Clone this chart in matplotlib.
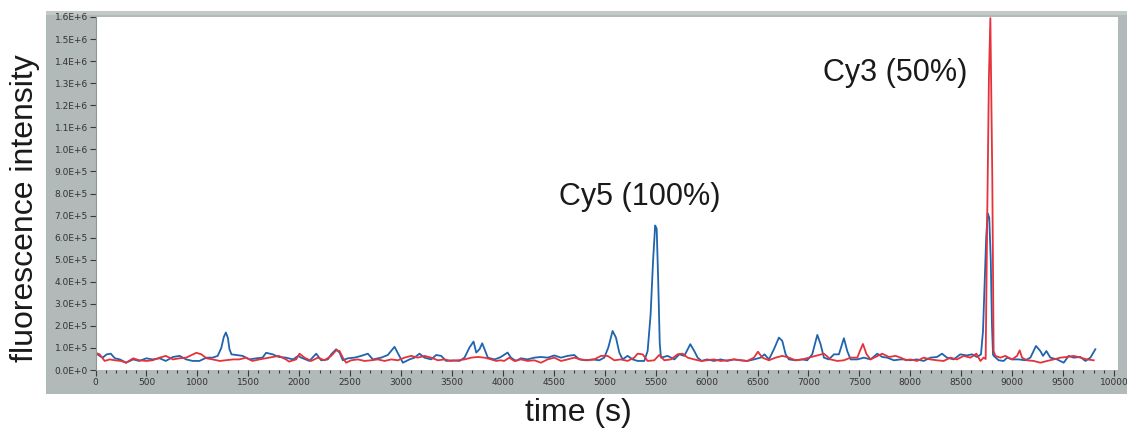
#Fluorescence time trace, Cy5 and Cy3 channels
import numpy as np
import matplotlib
matplotlib.use('Agg')
from matplotlib import pyplot as plt
from matplotlib.patches import Rectangle

#Blue trace (Cy5 channel), time in s and intensity in thousands
blueT = [0, 40, 70, 110, 150, 190, 240, 300, 370, 430,
         500, 560, 630, 690, 760, 825, 890, 955, 1020, 1090,
         1150, 1200, 1235, 1260, 1280, 1300, 1315, 1335, 1380, 1445,
         1510, 1580, 1640, 1675, 1740, 1800, 1870, 1940,
         1990, 2020, 2100, 2167, 2216, 2281, 2314, 2363, 2396, 2428,
         2478, 2543, 2609, 2674, 2723, 2805, 2870, 2936, 2975, 3018,
         3083, 3132, 3181, 3230, 3296, 3345, 3394, 3443, 3509, 3574,
         3623, 3672, 3712, 3738, 3770, 3797, 3826, 3852, 3918,
         3967, 3997, 4046, 4079, 4128, 4177, 4243, 4308, 4374, 4439,
         4505, 4570, 4635, 4701, 4750, 4815, 4881, 4946, 4995, 5035,
         5077, 5110, 5143, 5175, 5224, 5274, 5323, 5388, 5421, 5450,
         5475, 5495, 5510, 5525, 5540, 5552, 5617, 5683, 5732, 5781,
         5840, 5879, 5912,
         5951, 6006, 6072, 6137, 6203, 6268, 6334, 6399, 6465, 6530,
         6569, 6612, 6661, 6710, 6743, 6776, 6808, 6874, 6939, 6988,
         7037, 7087, 7119, 7152, 7201, 7250, 7299, 7348, 7381, 7414,
         7480, 7545, 7610, 7676, 7725, 7774, 7839, 7905,
         7935, 8000, 8066, 8131, 8197, 8262, 8311, 8360, 8426, 8491,
         8557, 8606, 8655, 8694, 8714, 8730, 8745, 8760, 8775, 8790,
         8802, 8812, 8819, 8868, 8917, 8950, 8999, 9064, 9130, 9179,
         9234, 9277, 9303, 9336, 9375, 9441, 9506, 9555, 9604, 9670,
         9719, 9768, 9817]
blueK = [78, 64, 56, 71, 74, 53, 48, 33, 48, 41,
         53, 48, 53, 41, 59, 64, 48, 41, 41, 56,
         56, 64, 100, 150, 170, 145, 95, 71, 68, 64,
         48, 53, 56, 78, 71, 59, 56, 48,
         64, 56, 41, 74, 44, 48, 71, 94, 79, 44,
         53, 56, 64, 74, 48, 56, 68, 105, 71, 33,
         48, 56, 74, 56, 48, 68, 64, 41, 44, 41,
         56, 102, 129, 79, 94, 121, 86, 56, 48,
         56, 64, 79, 56, 41, 53, 48, 56, 59, 56,
         66, 56, 64, 68, 48, 44, 48, 44, 56, 102,
         177, 147, 79, 48, 64, 48, 41, 41, 86, 250,
         500, 655, 640, 400, 120, 56, 64, 48, 71, 64,
         117, 86, 56,
         41, 48, 41, 48, 41, 48, 44, 41, 48, 56,
         71, 48, 94, 147, 132, 71, 48, 44, 48, 44,
         71, 159, 117, 56, 48, 71, 71, 144, 86, 48,
         48, 56, 48, 74, 59, 56, 44, 48,
         48, 44, 48, 41, 56, 59, 74, 56, 48, 71,
         66, 71, 59, 71, 177, 400, 600, 710, 690, 500,
         200, 70, 64, 44, 41, 56, 48, 48, 44, 56,
         109, 86, 64, 86, 56, 48, 33, 64, 56, 59,
         41, 56, 94]

#Red trace (Cy3 channel)
redT = [0, 40, 90, 140, 190, 250, 300, 370, 430, 500,
        560, 630, 690, 760, 825, 890, 990, 1040, 1090, 1150,
        1220, 1280, 1350, 1410, 1480, 1540, 1610, 1670, 1740, 1800,
        1870, 1900, 1970,
        2003, 2052, 2118, 2183, 2249, 2314, 2363, 2396, 2428, 2461,
        2510, 2576, 2641, 2707, 2772, 2838, 2903, 2969, 3034, 3100,
        3165, 3230, 3296, 3361, 3427, 3492, 3558, 3623, 3689, 3754,
        3820, 3885, 3934,
        3980, 4013, 4063, 4112, 4177, 4243, 4308, 4374, 4439, 4505,
        4570, 4635, 4701, 4766, 4832, 4897, 4963, 5028, 5094, 5159,
        5224, 5290, 5323, 5372, 5421, 5486, 5535, 5585, 5650, 5715,
        5765, 5814, 5879, 5945,
        6006, 6072, 6137, 6203, 6268, 6334, 6399, 6465, 6504, 6547,
        6612, 6677, 6743, 6808, 6874, 6939, 7005, 7070, 7152, 7217,
        7283, 7348, 7414, 7480, 7505, 7535, 7571, 7610, 7659, 7725,
        7790, 7856, 7905,
        7960, 8000, 8066, 8131, 8197, 8262, 8328, 8393, 8459, 8524,
        8590, 8649, 8688, 8720, 8740, 8756, 8772, 8786, 8805, 8818,
        8835, 8884, 8933, 8999, 9048, 9074, 9097, 9146, 9212, 9277,
        9343, 9408, 9473, 9539, 9604, 9670, 9735, 9801]
redK = [78, 71, 41, 48, 44, 41, 33, 53, 44, 41,
        44, 56, 64, 48, 53, 56, 78, 71, 53, 48,
        41, 44, 48, 48, 56, 41, 48, 53, 59, 64,
        48, 38, 48,
        74, 56, 41, 56, 44, 64, 89, 86, 56, 33,
        44, 48, 41, 44, 48, 41, 48, 44, 56, 64,
        56, 64, 56, 44, 48, 41, 44, 48, 56, 59,
        56, 48, 41,
        44, 41, 56, 41, 48, 41, 44, 33, 48, 56,
        41, 48, 56, 48, 44, 48, 64, 64, 44, 48,
        41, 56, 74, 71, 41, 44, 68, 44, 48, 71,
        74, 56, 48, 41,
        44, 48, 41, 44, 48, 44, 41, 56, 83, 56,
        44, 56, 64, 56, 44, 48, 56, 64, 74, 48,
        41, 44, 56, 56, 86, 118, 71, 48, 59, 74,
        59, 64, 56,
        44, 48, 41, 56, 48, 44, 41, 56, 48, 64,
        56, 74, 41, 56, 50, 723, 1330, 1595, 874, 86,
        64, 56, 64, 48, 64, 89, 56, 44, 41, 33,
        41, 48, 56, 59, 64, 56, 48, 44]

#Axis ticks and labels
yTicks = [i * 1e5 for i in range(17)]
yTickLabels = ['0.0E+0', '1.0E+5', '2.0E+5', '3.0E+5', '4.0E+5', '5.0E+5',
               '6.0E+5', '7.0E+5', '8.0E+5', '9.0E+5', '1.0E+6', '1.1E+6',
               '1.2E+6', '1.3E+6', '1.4E+6', '1.5E+6', '1.6E+6']
xTicks = list(range(0, 10001, 500))
xTickLabels = [str(x) for x in xTicks]

W, H = 1127, 433
fig = plt.figure(figsize=(W / 100, H / 100), dpi=100)

#grey frame behind the graph area
fig.patches.append(Rectangle((46 / W, 1 - 394 / H), 1 - 46 / W, 383 / H,
                             transform=fig.transFigure, facecolor='#b1b9b9',
                             edgecolor='none', zorder=0))
fig.patches.append(Rectangle((46 / W, 1 - 15 / H), 1 - 46 / W, 4 / H,
                             transform=fig.transFigure, facecolor='#c3c9c9',
                             edgecolor='none', zorder=0))
#white plot area runs a bit past the last tick
fig.patches.append(Rectangle((95.5 / W, 1 - 370 / H), (1118 - 95.5) / W, 353 / H,
                             transform=fig.transFigure, facecolor='white',
                             edgecolor='none', zorder=0))

ax = fig.add_axes([95.5 / W, 1 - 370 / H, 1018.5 / W, 353 / H])
ax.set_zorder(2)
ax.patch.set_alpha(0)
ax.plot(blueT, np.array(blueK) * 1000, color='#1f64ae', linewidth=1.3)
ax.plot(redT, np.array(redK) * 1000, color='#e5323b', linewidth=1.3)

ax.set_xlim(0, 10000)
ax.set_ylim(0, 1.6e6)
ax.set_xticks(xTicks)
ax.set_xticklabels(xTickLabels)
ax.set_xticks(range(0, 10001, 100), minor=True)
ax.set_yticks(yTicks)
ax.set_yticklabels(yTickLabels)
ax.tick_params(axis='both', which='major', length=4, width=0.8, color='#3a3a3a',
               labelsize=6.5, labelcolor='#333333', pad=1.5)
ax.tick_params(axis='x', which='minor', length=2.2, width=0.8, color='#3a3a3a')
for side in ['top', 'right', 'bottom']:
  ax.spines[side].set_visible(False)
ax.spines['left'].set_color('#8e9696')
ax.spines['left'].set_linewidth(0.8)

#peak labels
ax.text(5342, 782e3, 'Cy5 (100%)', ha='center', va='center', fontsize=22,
        family='Liberation Sans', color='#1a1a1a')
ax.text(7856, 1.345e6, 'Cy3 (50%)', ha='center', va='center', fontsize=22,
        family='Liberation Sans', color='#1a1a1a')

fig.text(25 / W, 1 - 208 / H, 'fluorescence intensity', rotation=90, ha='center',
         va='center', fontsize=23, family='Liberation Sans', color='#1a1a1a')
fig.text(578 / W, 1 - 413 / H, 'time (s)', ha='center', va='center', fontsize=23,
         family='Liberation Sans', color='#1a1a1a')

fig.savefig('out.png', dpi=100)
